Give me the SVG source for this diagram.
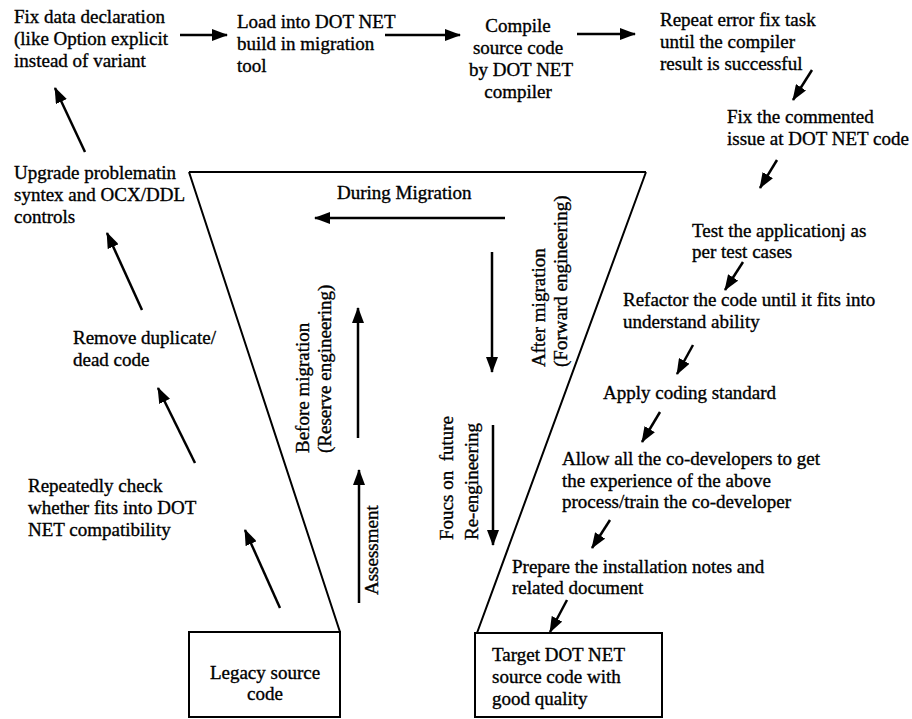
<svg xmlns="http://www.w3.org/2000/svg" width="912" height="719" viewBox="0 0 912 719" font-family="Liberation Serif, Times New Roman, serif">
<defs>
<style>
text{font-family:"Liberation Serif","Times New Roman",serif;font-size:19px;fill:#000;stroke:#000;stroke-width:0.35}
.c{text-anchor:middle}
.ln{stroke:#000;stroke-width:2.5;fill:none}
.sh{stroke:#000;stroke-width:2;fill:none}
.bx{stroke:#000;stroke-width:2;fill:#fff}
</style>
<marker id="ah" markerWidth="16" markerHeight="12" refX="15" refY="6" orient="auto" markerUnits="userSpaceOnUse">
<path d="M0,0 L16,6 L0,12 z" fill="#000"/>
</marker>
</defs>
<rect width="912" height="719" fill="#fff"/>

<g id="funnel">
<path class="sh" d="M189,172 L646,172 M189,172 L340,632 M646,172 L477,633"/>
</g>

<g id="node-fix-data">
<text x="14" y="23">Fix data declaration</text>
<text x="14" y="45">(like Option explicit</text>
<text x="14" y="67">instead of variant</text>
</g>
<g id="node-load">
<text x="237" y="28">Load into DOT NET</text>
<text x="237" y="50">build in migration</text>
<text x="237" y="72">tool</text>
</g>
<g id="node-compile">
<text class="c" x="518" y="32">Compile</text>
<text class="c" x="518" y="54">source code</text>
<text class="c" x="521" y="76">by DOT NET</text>
<text class="c" x="518" y="98">compiler</text>
</g>
<g id="node-repeat">
<text x="660" y="26">Repeat error fix task</text>
<text x="660" y="48">until the compiler</text>
<text x="660" y="70">result is successful</text>
</g>
<g id="node-fix-commented">
<text x="727" y="123">Fix the commented</text>
<text x="727" y="145">issue at DOT NET code</text>
</g>
<g id="node-test">
<text x="692" y="237">Test the applicationj as</text>
<text x="692" y="258">per test cases</text>
</g>
<g id="node-refactor">
<text x="623" y="306">Refactor the code until it fits into</text>
<text x="623" y="328">understand ability</text>
</g>
<g id="node-apply">
<text x="603" y="399">Apply coding standard</text>
</g>
<g id="node-allow">
<text x="562" y="465">Allow all the co-developers to get</text>
<text x="562" y="487">the experience of the above</text>
<text x="562" y="508">process/train the co-developer</text>
</g>
<g id="node-prepare">
<text x="512" y="573">Prepare the installation notes and</text>
<text x="512" y="594">related document</text>
</g>
<g id="node-target">
<rect class="bx" x="475" y="633" width="187" height="84"/>
<text x="492" y="661">Target DOT NET</text>
<text x="492" y="683">source code with</text>
<text x="492" y="705">good quality</text>
</g>
<g id="node-legacy">
<rect class="bx" x="189" y="632" width="151" height="85"/>
<text class="c" x="265" y="679">Legacy source</text>
<text class="c" x="265" y="700">code</text>
</g>
<g id="node-repeatedly">
<text x="28" y="492">Repeatedly check</text>
<text x="28" y="514">whether fits into DOT</text>
<text x="28" y="536">NET compatibility</text>
</g>
<g id="node-remove">
<text x="73" y="344">Remove duplicate/</text>
<text x="73" y="366">dead code</text>
</g>
<g id="node-upgrade">
<text x="14" y="179">Upgrade problematin</text>
<text x="14" y="201">syntex and OCX/DDL</text>
<text x="14" y="223">controls</text>
</g>

<g id="label-during">
<text x="337" y="199">During Migration</text>
</g>
<g id="label-after">
<text transform="translate(545,367) rotate(-90)">After migration</text>
<text transform="translate(567,367) rotate(-90)">(Forward engineering)</text>
</g>
<g id="label-before">
<text transform="translate(309,453) rotate(-90)">Before migration</text>
<text transform="translate(331,453) rotate(-90)">(Reserve engineering)</text>
</g>
<g id="label-assessment">
<text transform="translate(378,595) rotate(-90)">Assessment</text>
</g>
<g id="label-focus">
<text transform="translate(453,540) rotate(-90)" xml:space="preserve">Foucs on  future</text>
<text transform="translate(478,540) rotate(-90)">Re-engineering</text>
</g>

<g id="connectors">
<line class="ln" x1="180" y1="35" x2="227" y2="35" marker-end="url(#ah)"/>
<line class="ln" x1="385" y1="35" x2="460" y2="35" marker-end="url(#ah)"/>
<line class="ln" x1="577" y1="34" x2="635" y2="34" marker-end="url(#ah)"/>
<line class="ln" x1="812" y1="70" x2="793" y2="100" marker-end="url(#ah)"/>
<line class="ln" x1="777" y1="160" x2="760" y2="188" marker-end="url(#ah)"/>
<line class="ln" x1="743" y1="262" x2="725" y2="290" marker-end="url(#ah)"/>
<line class="ln" x1="693" y1="345" x2="677" y2="374" marker-end="url(#ah)"/>
<line class="ln" x1="660" y1="412" x2="642" y2="442" marker-end="url(#ah)"/>
<line class="ln" x1="610" y1="520" x2="592" y2="548" marker-end="url(#ah)"/>
<line class="ln" x1="567" y1="600" x2="550" y2="632" marker-end="url(#ah)"/>
<line class="ln" x1="280" y1="608" x2="245" y2="530" marker-end="url(#ah)"/>
<line class="ln" x1="195" y1="463" x2="158" y2="388" marker-end="url(#ah)"/>
<line class="ln" x1="142" y1="310" x2="107" y2="233" marker-end="url(#ah)"/>
<line class="ln" x1="85" y1="152" x2="55" y2="88" marker-end="url(#ah)"/>
<line class="ln" x1="505" y1="218" x2="315" y2="218" marker-end="url(#ah)"/>
<line class="ln" x1="492" y1="252" x2="492" y2="372" marker-end="url(#ah)"/>
<line class="ln" x1="358" y1="438" x2="358" y2="308" marker-end="url(#ah)"/>
<line class="ln" x1="359" y1="603" x2="359" y2="470" marker-end="url(#ah)"/>
<line class="ln" x1="493" y1="425" x2="493" y2="545" marker-end="url(#ah)"/>
</g>
</svg>
